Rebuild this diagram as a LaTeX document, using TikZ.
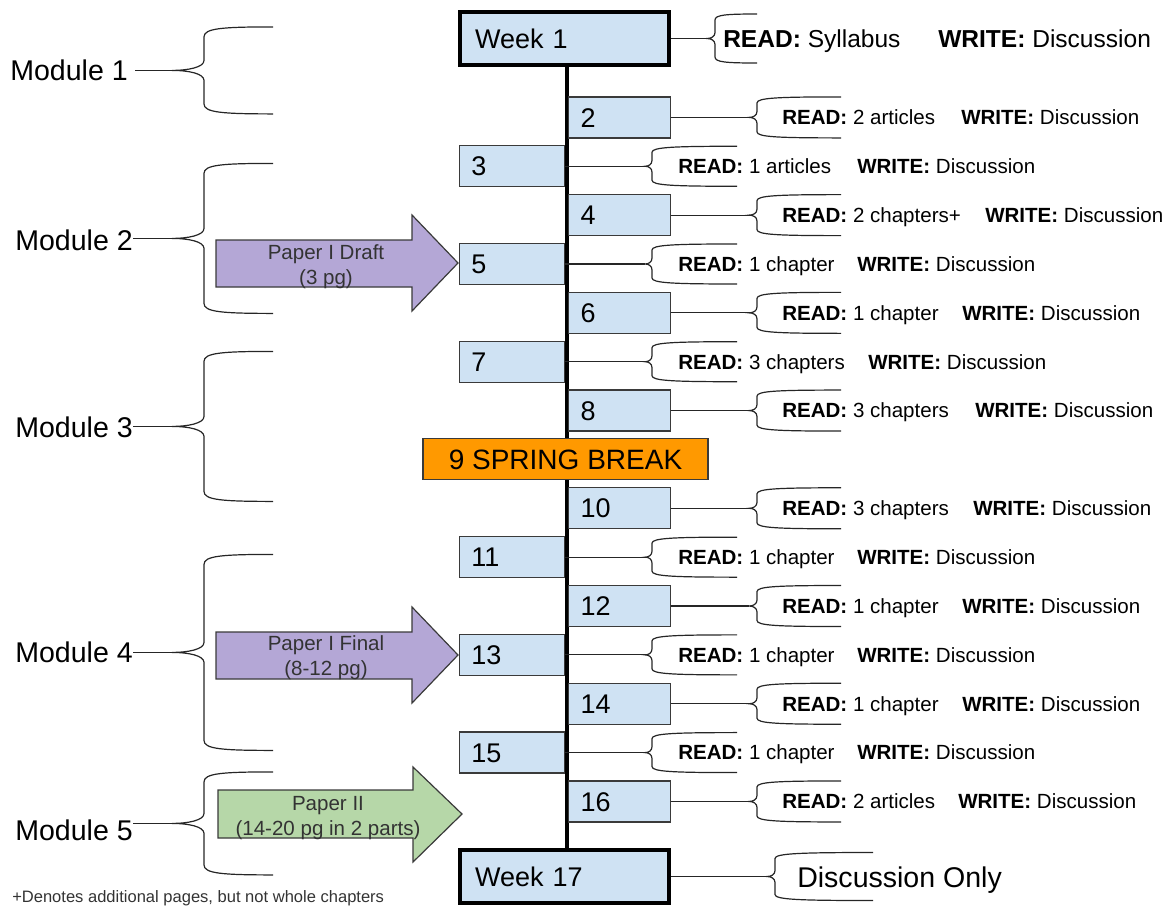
\documentclass[tikz,border=0pt]{standalone}
\usepackage{fontspec}
\setmainfont{Liberation Sans}
\usetikzlibrary{backgrounds}
\newdimen\pxu \pxu=0.75pt
\definecolor{weekblue}{HTML}{CFE2F3}
\definecolor{boxline}{HTML}{3A3A3A}
\definecolor{paperpurple}{HTML}{B4A7D6}
\definecolor{papergreen}{HTML}{B6D7A8}
\definecolor{breakorange}{HTML}{FF9900}
\definecolor{inkgray}{HTML}{333333}
% READ / WRITE line with the WRITE part at a fixed offset
\newcommand\rw[2]{\makebox[#1\pxu][l]{\textbf{READ:} #2}\textbf{WRITE:} Discussion}
\begin{document}
\begin{tikzpicture}[x=0.75pt,y=-0.75pt,
  wk/.style={draw=boxline, fill=weekblue, line width=1pt, inner ysep=0pt, inner xsep=9pt,
    minimum height=30.75pt, text height=14.55pt, text depth=0pt, align=left,
    font=\fontsize{20.25}{24}\selectfont},
  evenwk/.style={wk, anchor=west, text width=58.5pt},
  oddwk/.style={wk, anchor=east, text width=60.75pt},
  bigwk/.style={wk, draw=black, line width=3pt, inner xsep=11.25pt, text width=134.25pt, minimum height=39.75pt},
  breakbox/.style={draw=boxline, fill=breakorange, line width=1pt, minimum width=213.75pt, minimum height=30.75pt,
    inner sep=0pt, text height=15.1pt, text depth=0pt, font=\fontsize{21}{25}\selectfont},
  spine/.style={line width=3pt, black},
  link/.style={line width=0.9pt, black!85},
  bracestyle/.style={line width=0.9pt, black!85},
  ann/.style={anchor=west, inner sep=0pt, text height=11.1pt, text depth=0pt, font=\fontsize{15.4}{18}\selectfont},
  annbig/.style={anchor=west, inner sep=0pt, text height=13.2pt, text depth=0pt, font=\fontsize{18.4}{22}\selectfont},
  modtext/.style={anchor=east, inner sep=0pt, text height=15.4pt, text depth=0pt, font=\fontsize{21.4}{25}\selectfont},
  papertext/.style={align=center, inner sep=0pt, text=inkgray, font=\fontsize{15.4}{18.75}\selectfont},
  paperarrow/.style={draw=boxline, line width=0.9pt},
  pics/curly/.style n args={4}{code={
    \draw[bracestyle] ({#3},{-#1}) .. controls ({#2+0.25*(#3-#2)},{-#1}) and ({#2},{-#1+0.15*#4}) .. ({#2},{-#1+#4})
      -- ({#2},{-#4}) .. controls ({#2},{-0.3*#4}) and ({0.5*#2},0) .. (0,0)
      .. controls ({0.5*#2},0) and ({#2},{0.3*#4}) .. ({#2},{#4})
      -- ({#2},{#1-#4}) .. controls ({#2},{#1-0.15*#4}) and ({#2+0.25*(#3-#2)},{#1}) .. ({#3},{#1});
  }}
]
\useasboundingbox (0,0) rectangle (1169,908);
\coordinate (sx) at (567,0);

% first and last weeks
\node[bigwk] (w1) at (564.5,38.5) {Week 1};
\node[bigwk] (w17) at (564.5,876.5) {Week 17};

% spring break
\node[breakbox] (w9) at (565.5,459) {9 SPRING BREAK};

% the spine behind every week box
\begin{scope}[on background layer]
  \draw[spine] (w1.south -| sx) -- (w17.north -| sx);
\end{scope}

% weeks on the right of the spine
\foreach \n/\rd/\gap in {2/{2 articles}/179, 4/{2 chapters+}/203, 6/{1 chapter}/180, 8/{3 chapters}/193,
    10/{3 chapters}/191, 12/{1 chapter}/180, 14/{1 chapter}/180, 16/{2 articles}/176}{
  \pgfmathsetmacro\c{117.4+(\n-2)*48.86}
  \node[evenwk] (w\n) at (568,\c) {\n};
  \coordinate (b\n) at (749,\c);
  \draw[link] (w\n.east) -- (b\n);
  \pic at (b\n) {curly={20.5}{8}{92}{6}};
  \node[ann] (t\n) at (782,\c) {\rw{\gap}{\rd}};
}

% weeks on the left of the spine
\foreach \n/\rd/\gap in {3/{1 articles}/179, 5/{1 chapter}/179, 7/{3 chapters}/190,
    11/{1 chapter}/179, 13/{1 chapter}/179, 15/{1 chapter}/179}{
  \pgfmathsetmacro\c{117.4+(\n-2)*48.86}
  \node[oddwk] (w\n) at (565,\c) {\n};
  \coordinate (b\n) at (645,\c);
  \draw[link] (w\n.east) -- (b\n);
  \pic at (b\n) {curly={20}{7}{92}{6}};
  \node[ann] (t\n) at (678,\c) {\rw{\gap}{\rd}};
}

% week 1 and week 17 notes
\coordinate (b1) at (707,38.5);
\draw[link] (w1.east) -- (b1);
\pic at (b1) {curly={24.5}{8}{50}{6}};
\node[annbig] (t1) at (723,39) {\makebox[215\pxu][l]{\textbf{READ:} Syllabus}\textbf{WRITE:} Discussion};

\coordinate (b17) at (767,876.5);
\draw[link] (w17.east) -- (b17);
\pic at (b17) {curly={24}{8}{106}{6}};
\node[anchor=west, inner sep=0pt, text height=15.4pt, text depth=0pt, font=\fontsize{21.4}{25}\selectfont] (t17) at (797,877) {Discussion Only};

% modules
\node[modtext] (m1) at (128,70) {Module 1};
\node[modtext] (m2) at (133,240) {Module 2};
\node[modtext] (m3) at (133,427) {Module 3};
\node[modtext] (m4) at (133,652) {Module 4};
\node[modtext] (m5) at (133,830) {Module 5};

\coordinate (mb1) at (172,70.4);
\coordinate (mb2) at (172,238.4);
\coordinate (mb3) at (172,426.4);
\coordinate (mb4) at (172,652.4);
\coordinate (mb5) at (172,823.4);

\draw[link, shorten <=5.25pt] (m1.east |- mb1) -- (mb1);
\draw[link] (m2.east |- mb2) -- (mb2);
\draw[link] (m3.east |- mb3) -- (mb3);
\draw[link] (m4.east |- mb4) -- (mb4);
\draw[link] (m5.east |- mb5) -- (mb5);

\pic at (mb1) {curly={43.5}{32}{101}{10}};
\pic at (mb2) {curly={75}{32}{101}{10}};
\pic at (mb3) {curly={75}{32}{101}{10}};
\pic at (mb4) {curly={98}{32}{101}{10}};
\pic at (mb5) {curly={51.5}{32}{101}{10}};

% paper deadlines
\filldraw[paperarrow, fill=paperpurple] (216,240) -- (412,240) -- (412,215) -- (458,263) -- (412,311) -- (412,287) -- (216,287) -- cycle;
\node[papertext] (p1) at (326,267) {Paper I Draft\\(3 pg)};

\filldraw[paperarrow, fill=paperpurple] (216,632) -- (412,632) -- (412,607) -- (458,655) -- (412,703) -- (412,679) -- (216,679) -- cycle;
\node[papertext] (p2) at (326,658) {Paper I Final\\(8-12 pg)};

\filldraw[paperarrow, fill=papergreen] (218,790) -- (413,790) -- (413,767) -- (462,814) -- (413,862) -- (413,838) -- (218,838) -- cycle;
\node[papertext] (p3) at (328,818) {Paper II\\(14-20 pg in 2 parts)};

% footnote
\node[anchor=west, inner sep=0pt, text=inkgray, text height=8.9pt, text depth=0pt, font=\fontsize{12.4}{15}\selectfont] (note) at (12,897) {+Denotes additional pages, but not whole chapters};
\end{tikzpicture}
\end{document}
